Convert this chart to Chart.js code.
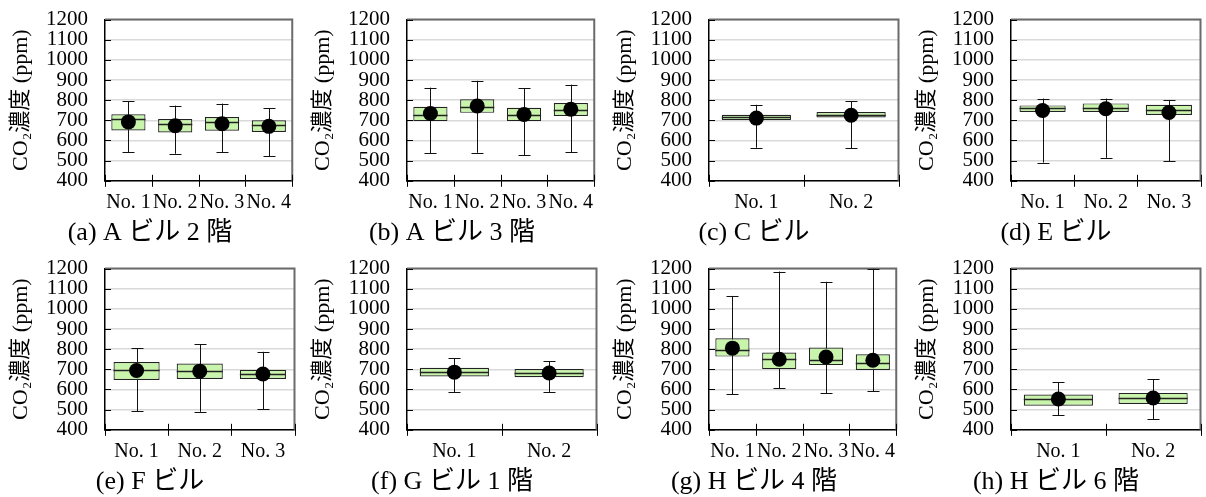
<!DOCTYPE html>
<html>
<head>
<script src="https://cdn.jsdelivr.net/npm/chart.js"></script>
<style>
    body { margin: 0; background: #fff; overflow: hidden; }
    #wrap { position: relative; width: 1206px; height: 497px; overflow: hidden; }
    .panel { position: absolute; }
</style>
</head>
<body>
<div id="wrap"></div>

<script>
    // captions of the 8 panels
    const captions = ['(a) A ビル 2 階', '(b) A ビル 3 階', '(c) C ビル', '(d) E ビル',
                      '(e) F ビル', '(f) G ビル 1 階', '(g) H ビル 4 階', '(h) H ビル 6 階'];
    const categories = [
        ['No. 1', 'No. 2', 'No. 3', 'No. 4'],
        ['No. 1', 'No. 2', 'No. 3', 'No. 4'],
        ['No. 1', 'No. 2'],
        ['No. 1', 'No. 2', 'No. 3'],
        ['No. 1', 'No. 2', 'No. 3'],
        ['No. 1', 'No. 2'],
        ['No. 1', 'No. 2', 'No. 3', 'No. 4'],
        ['No. 1', 'No. 2']
    ];
    // box plot statistics (ppm), one sub-array per panel
    const whiskerLow = [[542, 534, 543, 521], [538, 539, 528, 541], [564, 561], [490, 514, 497],
                        [492, 489, 503], [587, 587], [576, 605, 582, 590], [471, 452]];
    const q1 = [[650, 640, 648, 642], [696, 737, 696, 722], [701, 714], [741, 741, 726],
                [647, 652, 652], [664, 661], [763, 701, 721, 697], [519, 528]];
    const median = [[705, 683, 692, 678], [727, 766, 724, 752], [714, 727], [759, 759, 749],
                    [699, 694, 677], [686, 681], [797, 749, 746, 731], [551, 558]];
    const q3 = [[730, 706, 716, 700], [767, 804, 762, 786], [727, 741], [774, 784, 777],
                [736, 729, 697], [708, 701], [854, 783, 808, 775], [575, 583]];
    const whiskerHigh = [[795, 773, 783, 761], [862, 896, 859, 877], [777, 794], [808, 808, 801],
                         [805, 825, 787], [756, 739], [1064, 1185, 1134, 1200], [635, 652]];
    const mean = [[692, 673, 683, 670], [734, 771, 729, 755], [711, 725], [749, 757, 739],
                  [694, 691, 677], [686, 682], [805, 750, 761, 745], [553, 558]];
    const yMin = 400, yMax = 1200, yStep = 100;

    const SERIF = "'Liberation Serif', 'Noto Sans CJK JP', serif";

    // whiskers, medians and the frame around the plot area
    const boxPlugin = {
        id: 'boxplot',
        beforeDatasetsDraw(chart) {
            const ctx = chart.ctx, a = chart.chartArea;
            const xs = chart.scales.x, ys = chart.scales.y;
            const p = chart.options.plugins.boxplot;
            ctx.save();
            // top and right frame
            ctx.strokeStyle = '#6b6b6b';
            ctx.lineWidth = 2;
            ctx.beginPath();
            ctx.moveTo(a.left, a.top);
            ctx.lineTo(a.right, a.top);
            ctx.lineTo(a.right, a.bottom);
            ctx.stroke();
            // inward y ticks
            ctx.strokeStyle = '#000';
            ctx.lineWidth = 1;
            for (let v = yMin; v <= yMax; v += yStep) {
                const y = Math.round(ys.getPixelForValue(v)) + 0.5;
                ctx.beginPath();
                ctx.moveTo(a.left, y);
                ctx.lineTo(a.left + 6, y);
                ctx.stroke();
            }
            // category boundary ticks
            const n = p.lo.length;
            for (let i = 0; i <= n; i++) {
                const x = Math.round(a.left + i * (a.right - a.left) / n) + 0.5;
                ctx.beginPath();
                ctx.moveTo(x, a.bottom - 6);
                ctx.lineTo(x, a.bottom + 6);
                ctx.stroke();
            }
            // whiskers
            ctx.save();
            ctx.beginPath();
            ctx.rect(a.left, a.top, a.right - a.left, a.bottom - a.top);
            ctx.clip();
            ctx.strokeStyle = '#111';
            for (let i = 0; i < n; i++) {
                const x = Math.round(xs.getPixelForValue(i)) + 0.5;
                const y1 = ys.getPixelForValue(p.lo[i]);
                const y2 = ys.getPixelForValue(p.hi[i]);
                ctx.beginPath();
                ctx.moveTo(x, y1);
                ctx.lineTo(x, y2);
                ctx.moveTo(x - 6, Math.round(y1) + 0.5);
                ctx.lineTo(x + 6, Math.round(y1) + 0.5);
                ctx.moveTo(x - 6, Math.round(y2) + 0.5);
                ctx.lineTo(x + 6, Math.round(y2) + 0.5);
                ctx.stroke();
            }
            ctx.restore();
            ctx.restore();
        },
        afterDatasetDraw(chart, args) {
            if (args.meta.type !== 'bar') return;
            const ctx = chart.ctx, ys = chart.scales.y;
            const p = chart.options.plugins.boxplot;
            ctx.save();
            ctx.strokeStyle = '#222';
            ctx.lineWidth = 1.3;
            args.meta.data.forEach((bar, i) => {
                const y = Math.round(ys.getPixelForValue(p.med[i])) + 0.5;
                ctx.beginPath();
                ctx.moveTo(bar.x - bar.width / 2, y);
                ctx.lineTo(bar.x + bar.width / 2, y);
                ctx.stroke();
            });
            ctx.restore();
        }
    };

    const wrap = document.getElementById('wrap');
    const panelW = 302, panelH = 257;
    const rowTop = [-8, 241];

    for (let k = 0; k < 8; k++) {
        const div = document.createElement('div');
        div.className = 'panel';
        div.style.left = (k % 4) * panelW + 'px';
        div.style.top = rowTop[Math.floor(k / 4)] + 'px';
        const cv = document.createElement('canvas');
        cv.width = panelW;
        cv.height = panelH;
        div.appendChild(cv);
        wrap.appendChild(div);

        new Chart(cv.getContext('2d'), {
            type: 'bar',
            data: {
                labels: categories[k],
                datasets: [{
                    type: 'bar',
                    data: q1[k].map((v, i) => [v, q3[k][i]]),
                    backgroundColor: '#c8f5ab',
                    borderColor: '#222',
                    borderWidth: 1.2,
                    borderSkipped: false,
                    barPercentage: 0.73,
                    categoryPercentage: 1,
                    order: 2
                }, {
                    type: 'line',
                    data: mean[k],
                    showLine: false,
                    pointRadius: 7.5,
                    pointBackgroundColor: '#000',
                    pointBorderWidth: 0,
                    order: 1
                }]
            },
            options: {
                responsive: false,
                animation: false,
                devicePixelRatio: 1,
                layout: { padding: { top: 0, left: 0, right: 2, bottom: 0 } },
                plugins: {
                    legend: { display: false },
                    tooltip: { enabled: false },
                    title: {
                        display: true,
                        position: 'bottom',
                        text: captions[k],
                        color: '#000',
                        font: { family: SERIF, size: 26, weight: 'normal', lineHeight: 1.2 },
                        padding: { top: 2, bottom: 0 }
                    },
                    boxplot: { lo: whiskerLow[k], hi: whiskerHigh[k], med: median[k] }
                },
                scales: {
                    x: {
                        type: 'category',
                        offset: true,
                        grid: { display: false, drawTicks: false },
                        border: { color: '#000', width: 1.5 },
                        ticks: {
                            color: '#000',
                            font: { family: SERIF, size: 20, lineHeight: 1.2 },
                            padding: 10,
                            autoSkip: false,
                            maxRotation: 0
                        },
                        afterFit(scale) { scale.height = 35; }
                    },
                    y: {
                        min: yMin,
                        max: yMax,
                        grid: { color: '#d9d9d9', lineWidth: 1.5, drawTicks: false },
                        border: { color: '#000', width: 1.5 },
                        ticks: {
                            stepSize: yStep,
                            autoSkip: false,
                            color: '#000',
                            font: { family: SERIF, size: 21, lineHeight: 1 },
                            padding: 17,
                            callback: (v) => String(v)
                        },
                        title: {
                            display: true,
                            text: 'CO₂濃度 (ppm)',
                            color: '#000',
                            font: { family: SERIF, size: 22, lineHeight: 1.2 },
                            padding: { top: 8, bottom: 0 }
                        },
                        afterFit(scale) { scale.width = 105; }
                    }
                }
            },
            plugins: [boxPlugin]
        });
    }
</script>
</body>
</html>
